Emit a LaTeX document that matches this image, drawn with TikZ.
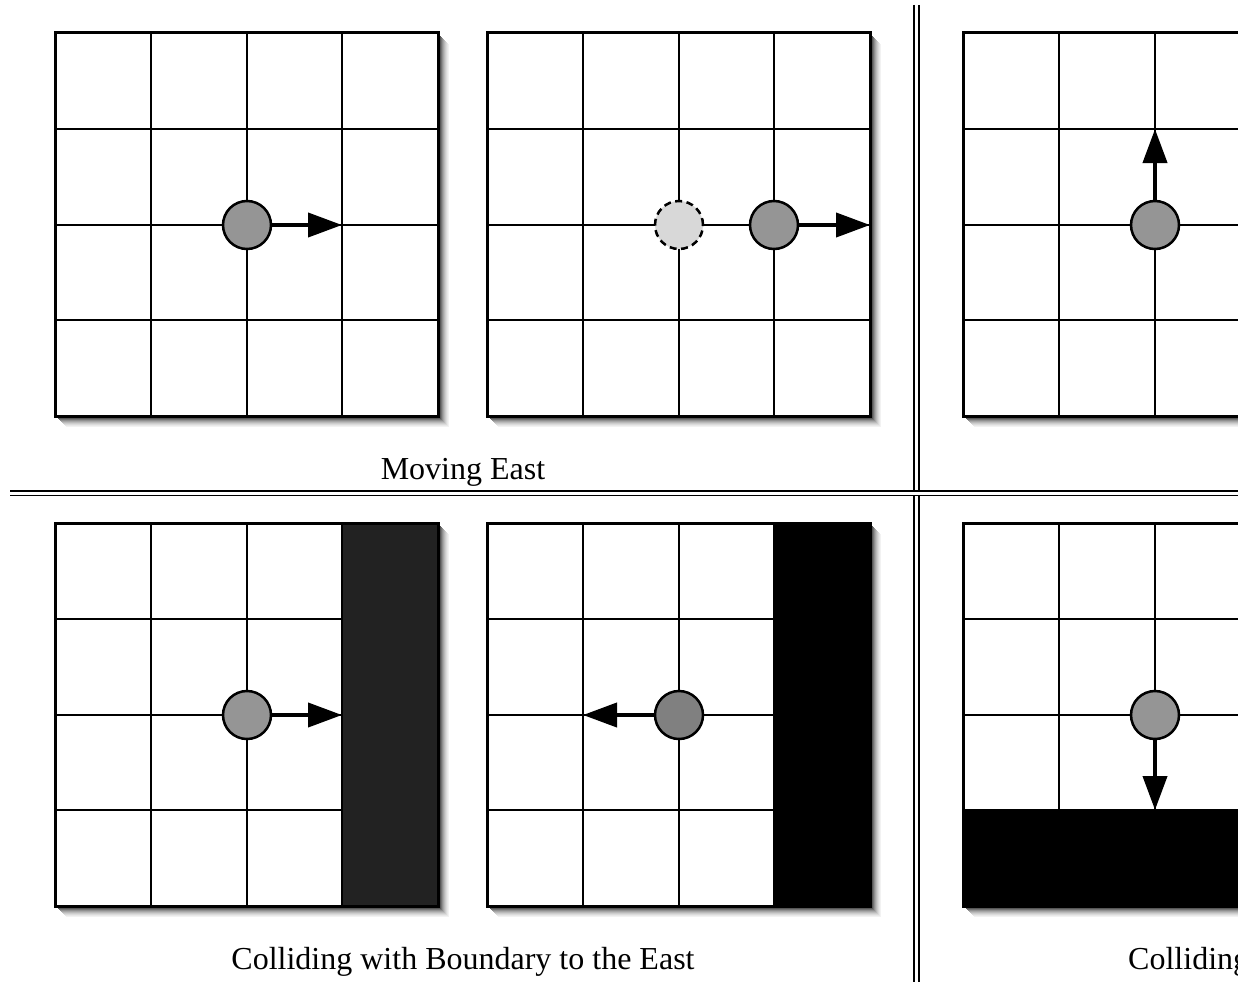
\documentclass[tikz,border=0pt]{standalone}
\usepackage{fontspec}
\setmainfont{Liberation Serif}
\usetikzlibrary{arrows.meta}
\definecolor{agentgray}{HTML}{959595}
\definecolor{agentdark}{HTML}{808080}
\definecolor{ghostgray}{HTML}{D8D8D8}
\definecolor{wallgray}{HTML}{222222}
\tikzset{
  gridline/.style={line width=2pt},
  frameline/.style={line width=3pt},
  agent/.style={circle, draw, line width=2.5pt, fill=agentgray, minimum size=48pt, inner sep=0pt},
  ghost/.style={agent, dash pattern=on 7pt off 4.5pt, fill=ghostgray},
  move/.style={line width=4pt, -{Triangle[length=34pt,width=24pt]}},
  sepline/.style={line width=1.2pt},
  caption/.style={font=\fontsize{32}{38}\selectfont, inner sep=0pt}
}
\newcommand{\panelshadow}{%
  \foreach \o/\c in {11/5,10/9,9/14,8/20,7/27,6/35,5/44,4/55,3/66}{\fill[black!\c] (\o,\o) rectangle ++(383,383);}%
  \fill[white] (0,0) rectangle (383,383);}
\newcommand{\fullgrid}{%
  \foreach \i in {96,192,287}{\draw[gridline] (\i,0) -- (\i,383);
                              \draw[gridline] (0,\i) -- (383,\i);}%
  \draw[frameline] (0,0) rectangle (383,383);}
\begin{document}
\begin{tikzpicture}[x=1pt,y=-1pt]
\useasboundingbox (0,0) rectangle (1238,982);
\clip (0,0) rectangle (1238,982);

% ---- separators
\draw[sepline] (10,491) -- (1238,491);
\draw[sepline] (10,495.5) -- (1238,495.5);
\draw[sepline] (914,5) -- (914,491);
\draw[sepline] (919,5) -- (919,491);
\draw[sepline] (914,495.5) -- (914,982);
\draw[sepline] (919,495.5) -- (919,982);

% ---- top left: moving east
\begin{scope}[shift={(55,33)}]
  \panelshadow \fullgrid
  \node[agent] (a1) at (192,192) {};
  \coordinate (t1) at (287,192);
  \draw[move] (a1) -- (t1);
\end{scope}

% ---- top middle
\begin{scope}[shift={(487,33)}]
  \panelshadow \fullgrid
  \node[ghost] (g2) at (192,192) {};
  \node[agent] (a2) at (287,192) {};
  \coordinate (t2) at (383,192);
  \draw[move] (a2) -- (t2);
\end{scope}

% ---- top right: moving north
\begin{scope}[shift={(963,33)}]
  \panelshadow \fullgrid
  \node[agent] (a3) at (192,192) {};
  \coordinate (t3) at (192,96);
  \draw[move] (a3) -- (t3);
\end{scope}

% ---- bottom left: collision east
\begin{scope}[shift={(55,523)}]
  \panelshadow
  \fill[wallgray] (287,0) rectangle (383,383);
  \foreach \i in {96,192,287}{\draw[gridline] (\i,0) -- (\i,383);
                              \draw[gridline] (0,\i) -- (287,\i);}
  \draw[frameline] (0,0) rectangle (383,383);
  \node[agent] (a4) at (192,192) {};
  \coordinate (t4) at (287,192);
  \draw[move] (a4) -- (t4);
\end{scope}

% ---- bottom middle: bounced back
\begin{scope}[shift={(487,523)}]
  \panelshadow
  \fill[black] (287,0) rectangle (383,383);
  \foreach \i in {96,192,287}{\draw[gridline] (\i,0) -- (\i,383);
                              \draw[gridline] (0,\i) -- (287,\i);}
  \draw[frameline] (0,0) rectangle (383,383);
  \node[agent, fill=agentdark] (a5) at (192,192) {};
  \coordinate (t5) at (96,192);
  \draw[move] (a5) -- (t5);
\end{scope}

% ---- bottom right: collision south
\begin{scope}[shift={(963,523)}]
  \panelshadow
  \fill[black] (0,287) rectangle (383,383);
  \foreach \i in {96,192,287}{\draw[gridline] (\i,0) -- (\i,287);
                              \draw[gridline] (0,\i) -- (383,\i);}
  \draw[frameline] (0,0) rectangle (383,383);
  \node[agent] (a6) at (192,192) {};
  \coordinate (t6) at (192,287);
  \draw[move] (a6) -- (t6);
\end{scope}

% ---- captions
\node[caption, anchor=base] (c1) at (463,479) {Moving East};
\node[caption, anchor=base] (c2) at (463,969) {Colliding with Boundary to the East};
\node[caption, anchor=base west] (c3) at (1128,969) {Colliding};
\end{tikzpicture}
\end{document}
